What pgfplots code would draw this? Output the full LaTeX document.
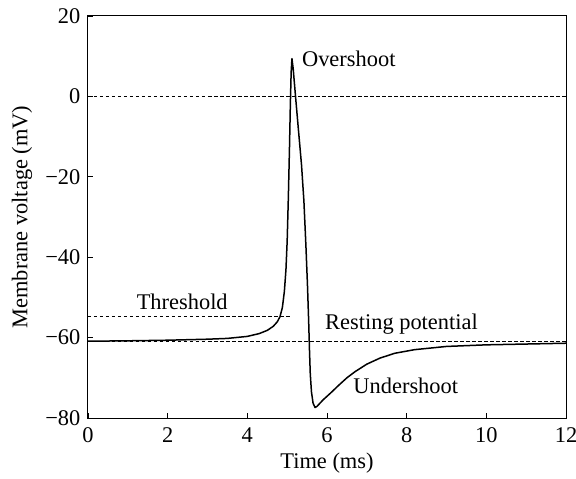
\documentclass[border=0pt]{standalone}
\usepackage{fontspec}
\setmainfont{Liberation Serif}
\usepackage{pgfplots}
\pgfplotsset{compat=1.18}
\begin{document}
\fontsize{22.5}{27}\selectfont
\begin{tikzpicture}
\useasboundingbox (-88bp,-61bp) rectangle (488bp,418bp);
\begin{axis}[
  at={(0,0)}, anchor=south west,
  scale only axis, width=478bp, height=402bp,
  xmin=0, xmax=12, ymin=-80, ymax=20,
  xtick={0,2,4,6,8,10,12}, xticklabels={0,2,4,6,8,10,12},
  ytick={-80,-60,-40,-20,0,20}, yticklabels={−80,−60,−40,−20,0,20},
  tick align=inside, tick pos=left,
  major tick length=5bp,
  axis line style={line width=1bp},
  every tick/.style={black, line width=0.9bp},
  xticklabel style={yshift=-2bp},
  xlabel={Time (ms)}, ylabel={Membrane voltage (mV)},
  xlabel style={at={(axis description cs:0.5,-0.112)}, anchor=center},
  ylabel style={at={(axis description cs:-0.138,0.5)}, anchor=center},
  clip=false,
]
\addplot[black, line width=0.8bp, dash pattern=on 3.5bp off 2.5bp] coordinates {(0,0) (12,0)};
\addplot[black, line width=0.8bp, dash pattern=on 3.5bp off 2.5bp] coordinates {(0,-61) (12,-61)};
\addplot[black, line width=0.8bp, dash pattern=on 3.5bp off 2.5bp] coordinates {(0,-54.7) (5.12,-54.7)};
\addplot[black, line width=1.5bp, line join=round] coordinates {
(0,-60.9) (1,-60.8) (2,-60.65) (3,-60.4) (3.5,-60.2) (4,-59.7) (4.3,-59.0)
(4.5,-58.2) (4.65,-57.2) (4.75,-56.1) (4.82,-54.8) (4.88,-52.5) (4.93,-48.5)
(4.97,-43) (5.0,-36) (5.03,-25) (5.06,-12) (5.08,-2) (5.10,6) (5.12,9.4)
(5.15,7) (5.21,0) (5.28,-8) (5.36,-17) (5.42,-26) (5.47,-37) (5.51,-47)
(5.54,-56) (5.56,-63) (5.58,-69) (5.61,-73.5) (5.65,-76.3) (5.70,-77.4)
(5.75,-77.1) (5.9,-75.5) (6.1,-73.7) (6.3,-71.8) (6.5,-70.0) (6.7,-68.5)
(7.0,-66.6) (7.33,-65.1) (7.7,-63.9) (8.2,-63.0) (9.0,-62.2) (10.0,-61.8)
(11.0,-61.6) (12.0,-61.4)
};
\node[anchor=base west, inner sep=0] at (axis cs:5.37,7.56) {Overshoot};
\node[anchor=base west, inner sep=0] at (axis cs:1.22,-53.1) {Threshold};
\node[anchor=base west, inner sep=0] at (axis cs:5.95,-58.1) {Resting potential};
\node[anchor=base west, inner sep=0] at (axis cs:6.66,-73.9) {Undershoot};
\end{axis}
\end{tikzpicture}
\end{document}
